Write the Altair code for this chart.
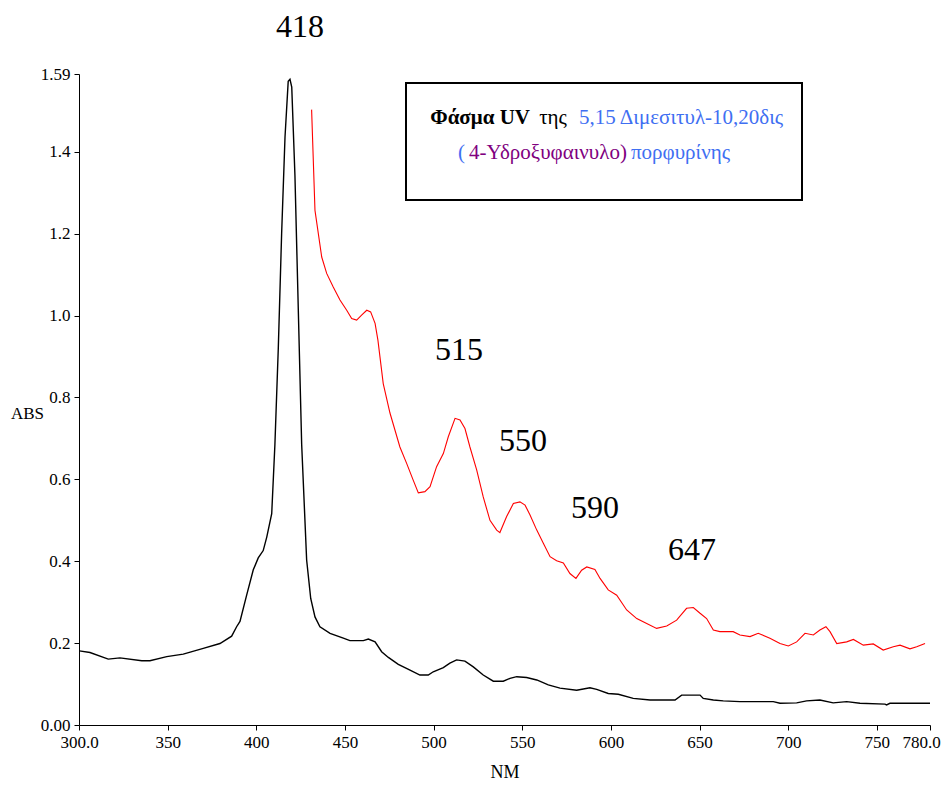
import altair as alt
import pandas as pd

# ---- data ----
black_nm = [300.2, 306.2, 316.5, 323.1, 335.4, 340.0, 349.5, 358.8, 370.1, 379.5, 386.1, 388.9,
            390.8, 394.6, 398.3, 401.1, 403.9, 405.9, 408.7, 410.5, 412.4, 414.3, 416.2, 418.0,
            419.0, 420.0, 421.8, 423.7, 425.6, 428.4, 430.7, 433.1, 435.9, 441.6, 449.1, 452.8,
            460.4, 463.2, 467.0, 470.7, 474.5, 480.1, 486.7, 492.3, 497.0, 499.8, 505.5, 509.2,
            513.0, 517.7, 522.4, 528.0, 533.7, 539.3, 543.1, 546.9, 552.5, 558.2, 564.7, 571.3,
            580.7, 588.2, 592.0, 598.5, 604.2, 612.6, 622.1, 636.2, 639.9, 650.3, 652.1, 657.8,
            663.4, 672.8, 691.6, 695.4, 704.8, 710.4, 717.9, 725.4, 733.0, 740.5, 754.6, 755.5,
            757.4, 777.1, 780.0]
black_abs = [0.181, 0.177, 0.161, 0.164, 0.157, 0.157, 0.167, 0.173, 0.187, 0.199, 0.217, 0.240,
             0.253, 0.318, 0.379, 0.408, 0.426, 0.459, 0.516, 0.685, 0.919, 1.201, 1.436, 1.572,
             1.577, 1.558, 1.342, 1.013, 0.685, 0.403, 0.309, 0.264, 0.240, 0.224, 0.212, 0.206,
             0.206, 0.210, 0.203, 0.179, 0.165, 0.148, 0.134, 0.122, 0.122, 0.130, 0.140, 0.151,
             0.159, 0.156, 0.142, 0.122, 0.107, 0.107, 0.114, 0.118, 0.116, 0.110, 0.098, 0.090,
             0.085, 0.091, 0.087, 0.077, 0.075, 0.065, 0.061, 0.061, 0.073, 0.073, 0.065, 0.061,
             0.059, 0.057, 0.057, 0.053, 0.054, 0.059, 0.061, 0.054, 0.057, 0.053, 0.051, 0.049,
             0.053, 0.053, 0.053]

red_nm = [431.2, 433.1, 436.9, 439.7, 443.4, 447.2, 451.0, 453.8, 456.6, 459.4, 462.3, 464.5,
          467.0, 468.6, 471.6, 475.4, 481.0, 484.8, 488.5, 491.4, 495.1, 498.0, 501.7, 505.5,
          508.3, 512.1, 514.9, 517.7, 520.5, 524.3, 528.0, 531.8, 535.6, 537.4, 541.2, 545.0,
          548.7, 551.6, 554.4, 558.2, 561.9, 565.7, 569.4, 573.2, 576.9, 580.3, 583.5, 586.4,
          591.0, 593.9, 598.5, 603.3, 608.9, 614.6, 620.2, 625.8, 631.5, 637.1, 642.7, 646.5,
          650.3, 654.0, 657.8, 661.5, 669.0, 672.8, 678.5, 683.1, 689.7, 695.4, 700.1, 704.8,
          709.5, 714.2, 717.9, 721.3, 723.6, 727.4, 733.0, 736.8, 742.4, 748.0, 753.6, 759.3,
          763.1, 768.7, 772.5, 777.2]
red_abs = [1.503, 1.257, 1.143, 1.103, 1.070, 1.038, 1.013, 0.993, 0.989, 1.001, 1.013, 1.009,
           0.981, 0.940, 0.834, 0.762, 0.679, 0.639, 0.598, 0.567, 0.570, 0.582, 0.631, 0.663,
           0.704, 0.749, 0.745, 0.724, 0.679, 0.623, 0.557, 0.500, 0.476, 0.470, 0.509, 0.541,
           0.545, 0.537, 0.513, 0.476, 0.444, 0.411, 0.401, 0.396, 0.370, 0.358, 0.378, 0.386,
           0.380, 0.358, 0.330, 0.317, 0.281, 0.260, 0.248, 0.236, 0.242, 0.256, 0.285, 0.287,
           0.273, 0.260, 0.232, 0.228, 0.228, 0.220, 0.216, 0.224, 0.212, 0.199, 0.193, 0.203,
           0.224, 0.220, 0.232, 0.240, 0.228, 0.199, 0.203, 0.209, 0.195, 0.198, 0.183, 0.191,
           0.195, 0.186, 0.191, 0.199]

peak_labels = ["418", "515", "550", "590", "647"]
peak_label_nm = [424.6, 514.3, 550.4, 591.0, 645.7]
peak_label_abs = [1.704, 0.916, 0.693, 0.530, 0.427]

x_tick_values = [300, 350, 400, 450, 500, 550, 600, 650, 700, 750, 780]
x_tick_labels = ["300.0", "350", "400", "450", "500", "550", "600", "650", "700", "750", "780.0"]
y_tick_values = [0, 0.2, 0.4, 0.6, 0.8, 1.0, 1.2, 1.4, 1.59]
y_tick_labels = ["0.00", "0.2", "0.4", "0.6", "0.8", "1.0", "1.2", "1.4", "1.59"]

FONT = "Liberation Serif"
BLUE = "#3f6ff2"
PURPLE = "#800080"

def label_expr(values, labels):
    expr = "''"
    for v, l in reversed(list(zip(values, labels))):
        expr = f"abs(datum.value - {v}) < 0.001 ? '{l}' : ({expr})"
    return expr

black_df = pd.DataFrame({"nm": black_nm, "abs": black_abs})
red_df = pd.DataFrame({"nm": red_nm, "abs": red_abs})
peaks_df = pd.DataFrame({"nm": peak_label_nm, "abs": peak_label_abs, "label": peak_labels})

xscale = alt.Scale(domain=[300, 780], nice=False, zero=False)
yscale = alt.Scale(domain=[0, 1.59], nice=False, zero=False)

xaxis = alt.Axis(values=x_tick_values, labelExpr=label_expr(x_tick_values, x_tick_labels),
                 title="NM", titleFont=FONT, titleFontSize=18, titleFontWeight="normal",
                 titleY=47, titleBaseline="middle", labelPadding=4, labelOverlap=False,
                 labelFlush=False,
                 labelOffset={"condition": {"test": "datum.value == 780", "value": -9}, "value": 0})
yaxis = alt.Axis(values=y_tick_values, labelExpr=label_expr(y_tick_values, y_tick_labels),
                 title="ABS", titleFont=FONT, titleFontSize=17, titleFontWeight="normal",
                 titleAngle=0, titleX=-52, titleY=339, titleAlign="center",
                 titleBaseline="middle", labelPadding=4, labelOverlap=False, labelFlush=False)

black = alt.Chart(black_df).mark_line(color="black", strokeWidth=1.4).encode(
    x=alt.X("nm:Q", scale=xscale, axis=xaxis),
    y=alt.Y("abs:Q", scale=yscale, axis=yaxis),
)
red = alt.Chart(red_df).mark_line(color="#ff0000", strokeWidth=1.1).encode(
    x=alt.X("nm:Q", scale=xscale),
    y=alt.Y("abs:Q", scale=yscale),
)
peaks = alt.Chart(peaks_df).mark_text(font=FONT, fontSize=32, color="black",
                                       align="center", baseline="middle").encode(
    x=alt.X("nm:Q", scale=xscale),
    y=alt.Y("abs:Q", scale=yscale),
    text="label:N",
)

one = pd.DataFrame({"k": [0]})
box = alt.Chart(one).mark_rect(fill="white", stroke="black", strokeWidth=2).encode(
    x=alt.value(327), x2=alt.value(723), y=alt.value(9), y2=alt.value(126)
)

def seg(text, x, y, align, color, weight="normal"):
    return alt.Chart(pd.DataFrame({"t": [text]})).mark_text(
        font=FONT, fontSize=21, color=color, align=align, baseline="middle",
        fontWeight=weight
    ).encode(x=alt.value(x), y=alt.value(y), text="t:N")

title_parts = [
    seg("Φάσμα UV", 451, 44, "right", "black", "bold"),
    seg("της", 474, 44, "center", "black"),
    seg("5,15 Διμεσιτυλ-10,20δις", 500, 44, "left", BLUE),
    seg("(", 386, 79, "right", BLUE),
    seg("4-Υδροξυφαινυλο)", 390, 79, "left", PURPLE),
    seg("πορφυρίνης", 552, 79, "left", BLUE),
]

chart = alt.layer(black, red, peaks, box, *title_parts).properties(
    width=851, height=651,
    autosize=alt.AutoSizeParams(type="none"),
    padding={"left": 71, "top": 66, "right": 13, "bottom": 58},
    background="white",
).configure_view(strokeWidth=0).configure_axis(
    grid=False, domainColor="black", tickColor="black", labelColor="black",
    titleColor="black", labelFont=FONT, labelFontSize=17, tickSize=5,
    domainWidth=1, tickWidth=1,
)

chart.save("out.html", embed_options={"renderer": "svg", "actions": False})
